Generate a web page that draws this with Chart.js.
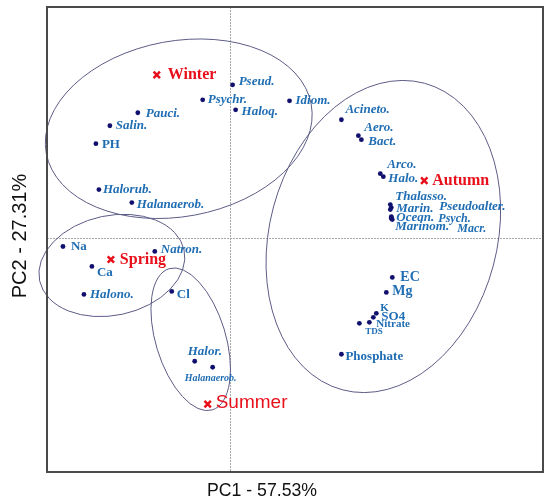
<!DOCTYPE html>
<html>
<head>
<meta charset="utf-8">
<script src="https://cdn.jsdelivr.net/npm/chart.js@4"></script>
<style>
  html, body { margin: 0; padding: 0; background: #fff; }
  canvas { display: block; }
</style>
</head>
<body>
<canvas id="pca" width="550" height="502"></canvas>
<script>
// PCA biplot - variable loadings and season scores

// variables (taxa + physico-chemical parameters)
const varNames = ['Pseud.', 'Psychr.', 'Haloq.', 'Idiom.', 'Pauci.', 'Salin.', 'PH', 'Halorub.', 'Halanaerob.',
    'Acineto.', 'Aero.', 'Bact.', 'Arco.', 'Halo.', 'Thalasso.', 'Marin.', 'Pseudoalter.', 'Ocean.', 'Psych.',
    'Marinom.', 'Macr.', 'Na', 'Natron.', 'Ca', 'Halono.', 'Cl', 'EC', 'Mg', 'K', 'SO4', 'Nitrate', 'TDS',
    'Phosphate', 'Halor.', 'Halanaerob.'];
const varPC1 = [0.03, -0.27, 0.06, 0.60, -0.92, -1.20, -1.34, -1.31, -0.98,
    1.12, 1.29, 1.32, 1.51, 1.54, 1.61, 1.61, 1.62, 1.62, 1.62,
    1.62, 1.63, -1.67, -0.75, -1.38, -1.46, -0.58, 1.63, 1.57, 1.47, 1.44, 1.40, 1.30,
    1.12, -0.35, -0.17];
const varPC2 = [1.53, 1.38, 1.28, 1.37, 1.25, 1.12, 0.94, 0.48, 0.35,
    1.18, 1.02, 0.98, 0.64, 0.61, 0.33, 0.28, 0.30, 0.21, 0.20,
    0.19, 0.18, -0.09, -0.14, -0.29, -0.57, -0.54, -0.40, -0.55, -0.76, -0.80, -0.85, -0.86,
    -1.17, -1.24, -1.30];
const varKind = ['taxon', 'taxon', 'taxon', 'taxon', 'taxon', 'taxon', 'param', 'taxon', 'taxon',
    'taxon', 'taxon', 'taxon', 'taxon', 'taxon', 'taxon', 'taxon', 'taxon', 'taxon', 'taxon',
    'taxon', 'taxon', 'param', 'taxon', 'param', 'taxon', 'param', 'param', 'param', 'param', 'param', 'param', 'param',
    'param', 'taxon', 'taxon'];

// seasons (sample scores)
const seasonNames = ['Winter', 'Spring', 'Autumn', 'Summer'];
const seasonPC1 = [-0.73, -1.19, 1.95, -0.22];
const seasonPC2 = [1.63, -0.22, 0.57, -1.67];

// grouping ellipses: centre, semi axes, tilt (degrees)
const ellCX = [-0.51, -1.18, -0.39, 1.54];
const ellCY = [1.09, -0.28, -1.02, 0.01];
const ellA = [1.35, 0.74, 0.74, 1.59];
const ellB = [0.88, 0.50, 0.35, 1.14];
const ellAngle = [10.5, 12, -73, 75];

// axis titles
const xTitle = 'PC1 - 57.53%';
const yTitle = 'PC2 - 27.31%';

// label layout (pixel offset from the dot, font size)
const labelOffset = [[6, -3], [5, 0], [6, 2], [6, 0], [8, 1], [6, 0], [6, 1], [4, 0], [5, 2],
    [4, -10], [6, -8], [7, 2], [7, -9], [5, 2], [5, -8], [6, -1], [48, -1], [5, 1], [47, 1],
    [4, 8], [65, 9], [8, 0], [6, -2], [5, 6], [6, 0], [5, 3], [8, 0], [6, -1], [4, -5], [8, -1], [7, 2], [6, 8],
    [4, 2], [-7, -10], [-28, 11]];
const labelSize = [13, 13, 13, 13, 13, 13, 13, 13, 13,
    13, 13, 13, 13, 13, 13, 13, 13, 13, 12,
    13, 12, 13, 13, 13, 13, 13, 14, 14, 11, 13, 11, 9,
    13, 13, 10];
const seasonOffset = [[11, 0], [9, 0], [8, 0], [8, -1]];

const blue = '#1f6db3';
const red = '#e8101a';

const overlay = {
    id: 'overlay',
    beforeDatasetsDraw(chart) {
        const ctx = chart.ctx;
        const xs = chart.scales.x, ys = chart.scales.y;
        const area = chart.chartArea;
        ctx.save();
        // zero lines
        ctx.strokeStyle = '#a8a8a8';
        ctx.lineWidth = 1;
        ctx.setLineDash([2, 1]);
        const x0 = Math.round(xs.getPixelForValue(0)) + 0.5;
        const y0 = Math.round(ys.getPixelForValue(0)) + 0.5;
        ctx.beginPath();
        ctx.moveTo(x0, area.top); ctx.lineTo(x0, area.bottom);
        ctx.moveTo(area.left, y0); ctx.lineTo(area.right, y0);
        ctx.stroke();
        ctx.setLineDash([]);
        // ellipses
        ctx.strokeStyle = '#5c5c86';
        ctx.lineWidth = 1;
        for (let i = 0; i < ellCX.length; i++) {
            const cx = xs.getPixelForValue(ellCX[i]);
            const cy = ys.getPixelForValue(ellCY[i]);
            const rx = xs.getPixelForValue(ellA[i]) - xs.getPixelForValue(0);
            const ry = xs.getPixelForValue(ellB[i]) - xs.getPixelForValue(0);
            ctx.beginPath();
            ctx.ellipse(cx, cy, rx, ry, -ellAngle[i] * Math.PI / 180, 0, Math.PI * 2);
            ctx.stroke();
        }
        ctx.restore();
    },
    afterDatasetsDraw(chart) {
        const ctx = chart.ctx;
        const xs = chart.scales.x, ys = chart.scales.y;
        const area = chart.chartArea;
        ctx.save();
        ctx.textAlign = 'left';
        ctx.textBaseline = 'middle';
        // variable labels
        ctx.fillStyle = blue;
        varNames.forEach((name, i) => {
            const px = xs.getPixelForValue(varPC1[i]);
            const py = ys.getPixelForValue(varPC2[i]);
            const style = varKind[i] === 'taxon' ? 'italic bold' : 'bold';
            ctx.font = `${style} ${labelSize[i]}px "Liberation Serif"`;
            ctx.fillText(name, px + labelOffset[i][0], py + labelOffset[i][1]);
        });
        // season labels
        ctx.fillStyle = red;
        seasonNames.forEach((name, i) => {
            const px = xs.getPixelForValue(seasonPC1[i]);
            const py = ys.getPixelForValue(seasonPC2[i]);
            ctx.font = name === 'Summer' ? '19px "Liberation Sans"' : 'bold 16px "Liberation Serif"';
            ctx.fillText(name, px + seasonOffset[i][0], py + seasonOffset[i][1]);
        });
        // frame
        ctx.strokeStyle = '#4a4a4a';
        ctx.lineWidth = 2;
        ctx.strokeRect(area.left, area.top, area.right - area.left, area.bottom - area.top);
        // axis titles
        ctx.fillStyle = '#111';
        ctx.textAlign = 'center';
        ctx.font = '17.7px "Liberation Sans"';
        ctx.fillText(xTitle, 262, 491);
        ctx.translate(20, 236);
        ctx.rotate(-Math.PI / 2);
        ctx.font = '20px "Liberation Sans"';
        ctx.fillText(yTitle, 0, 0);
        ctx.restore();
    }
};

new Chart(document.getElementById('pca'), {
    type: 'scatter',
    data: {
        datasets: [
            {
                label: 'Variables',
                data: varPC1.map((x, i) => ({ x: x, y: varPC2[i] })),
                pointRadius: 2.4,
                pointBackgroundColor: '#10106e',
                pointBorderWidth: 0
            },
            {
                label: 'Seasons',
                data: seasonPC1.map((x, i) => ({ x: x, y: seasonPC2[i] })),
                pointStyle: 'crossRot',
                pointRadius: 4.5,
                pointBorderWidth: 2.5,
                pointBorderColor: red
            }
        ]
    },
    options: {
        responsive: false,
        animation: false,
        devicePixelRatio: 1,
        layout: { padding: { left: 47, top: 6, right: 6, bottom: 30 } },
        scales: {
            x: { type: 'linear', min: -1.83, max: 3.14, display: false },
            y: { type: 'linear', min: -2.35, max: 2.31, display: false }
        },
        plugins: {
            legend: { display: false },
            tooltip: { enabled: false }
        }
    },
    plugins: [overlay]
});
</script>
</body>
</html>
